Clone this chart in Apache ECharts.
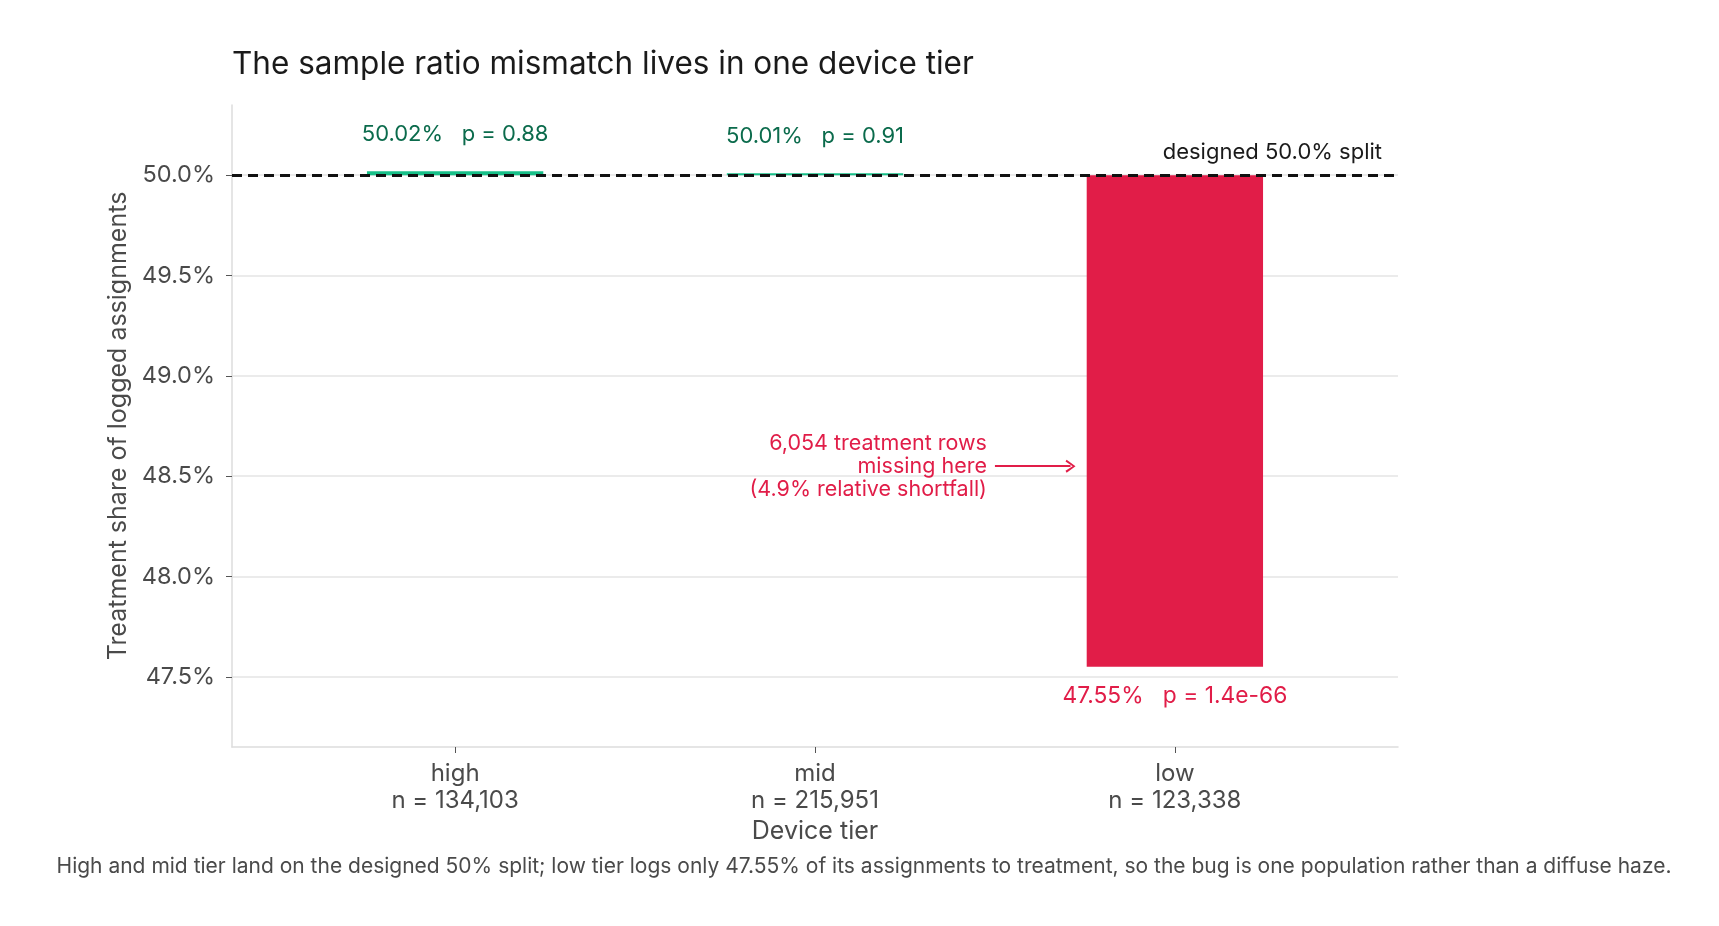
<!DOCTYPE html>
<html>
<head>
<meta charset="utf-8">
<script src="https://cdn.jsdelivr.net/npm/echarts@6/dist/echarts.min.js"></script>
<style>
  html, body { margin: 0; padding: 0; background: #fff; }
  #main { width: 1719px; height: 926px; }
</style>
</head>
<body>
<div id="main"></div>
<script>
var categories = ['high', 'mid', 'low'];
var counts = ['134,103', '215,951', '123,338'];
var shares = [50.02, 50.01, 47.55];
var pValues = ['0.88', '0.91', '1.4e-66'];
var designed = 50.0;
var yTicks = [47.5, 48.0, 48.5, 49.0, 49.5, 50.0];
var xTicks = [0, 1, 2];

var FONT = 'Inter, Liberation Sans, Arial, sans-serif';
var GREEN_BAR = '#17bf88', GREEN_TXT = '#0b6b4c';
var RED = '#e11d48';

var myChart = echarts.init(document.getElementById('main'));

var option = {
  animation: false,
  textStyle: { fontFamily: FONT },
  title: {
    text: 'The sample ratio mismatch lives in one device tier',
    left: 227, top: 44,
    textStyle: { fontSize: 31.5, fontWeight: 'normal', color: '#1a1a1a', fontFamily: FONT }
  },
  grid: { left: 232, top: 105, right: 321, bottom: 179 },
  xAxis: {
    type: 'value', min: -0.62, max: 2.62,
    name: 'Device tier', nameLocation: 'middle', nameGap: 72,
    nameTextStyle: { fontSize: 25, color: '#4a4a4a' },
    axisLine: { show: true, onZero: false, lineStyle: { color: '#dddddd', width: 1.5 } },
    axisTick: { show: true, customValues: xTicks, length: 6, lineStyle: { color: '#555' } },
    axisLabel: {
      customValues: xTicks, margin: 13, fontSize: 24, lineHeight: 27, color: '#4a4a4a',
      formatter: function (v) { return categories[v] + '\nn = ' + counts[v]; }
    },
    splitLine: { show: false }
  },
  yAxis: {
    type: 'value', min: 47.15, max: 50.35,
    name: 'Treatment share of logged assignments', nameLocation: 'middle', nameGap: 92,
    nameTextStyle: { fontSize: 25, color: '#4a4a4a' },
    axisLine: { show: true, onZero: false, lineStyle: { color: '#dddddd', width: 1.5 } },
    axisTick: { show: true, customValues: yTicks, length: 6, lineStyle: { color: '#555' } },
    axisLabel: {
      customValues: yTicks, margin: 17, fontSize: 23.5, color: '#4a4a4a',
      formatter: function (v) { return v.toFixed(1) + '%'; }
    },
    splitLine: { show: true, lineStyle: { color: '#e4e4e4', width: 1.5 } }
  },
  series: [
    {
      type: 'custom',
      z: 2,
      data: shares.map(function (v, i) { return [i, v]; }),
      renderItem: function (params, api) {
        var i = api.value(0), v = api.value(1);
        var a = api.coord([i - 0.245, designed]);
        var b = api.coord([i + 0.245, v]);
        var up = v >= designed;
        var top = Math.min(a[1], b[1]), h = Math.abs(a[1] - b[1]);
        var cx = (a[0] + b[0]) / 2;
        return {
          type: 'group',
          children: [
            { type: 'rect', shape: { x: a[0], y: top, width: b[0] - a[0], height: h },
              style: { fill: up ? GREEN_BAR : RED } },
            { type: 'text', z2: 5,
              style: {
                text: v.toFixed(2) + '%   p = ' + pValues[params.dataIndex],
                x: cx, y: up ? top - 37 : top + h + 29,
                align: 'center', verticalAlign: 'middle',
                fontSize: up ? 22 : 22.8, fontFamily: FONT, fill: up ? GREEN_TXT : RED
              } }
          ]
        };
      }
    },
    {
      type: 'line',
      z: 5,
      data: [],
      markLine: {
        silent: true, symbol: 'none',
        data: [
          { yAxis: designed,
            lineStyle: { color: '#111', width: 3, type: [10, 6] },
            label: { show: true, position: 'insideEndTop', distance: [16, 12],
              formatter: 'designed 50.0% split', fontSize: 22, color: '#1a1a1a' } },
          [
            { coord: [1.50, 48.55], symbol: 'none',
              lineStyle: { color: RED, width: 2, type: 'solid' }, label: { show: false } },
            { coord: [1.71, 48.55], symbol: 'path://M5,0 L10,8 L8.6,9 L5,2.6 L1.4,9 L0,8 Z', symbolSize: [13, 10] }
          ]
        ]
      },
      markPoint: {
        silent: true,
        symbol: 'circle', symbolSize: 0,
        data: [{
          coord: [1.50, 48.55],
          label: {
            show: true, position: 'left', distance: 8,
            formatter: '6,054 treatment rows\nmissing here\n(4.9% relative shortfall)',
            fontSize: 21.5, lineHeight: 23, color: RED, align: 'right'
          }
        }]
      }
    }
  ],
  graphic: [{
    type: 'text', x: 864, y: 867,
    style: {
      text: 'High and mid tier land on the designed 50% split; low tier logs only 47.55% of its assignments to treatment, so the bug is one population rather than a diffuse haze.',
      align: 'center', verticalAlign: 'middle', fontSize: 21, fontFamily: FONT, fill: '#4a4a4a'
    }
  }]
};

myChart.setOption(option);
</script>
</body>
</html>
